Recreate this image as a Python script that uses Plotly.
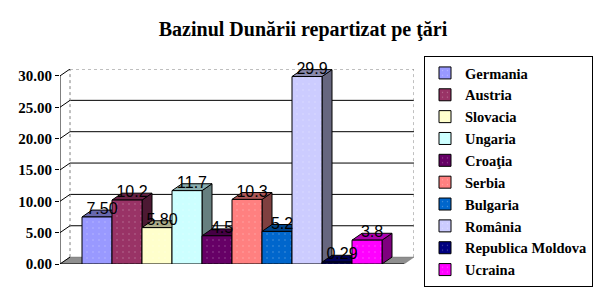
import plotly.graph_objects as go

# ---- data ----
countries = ["Germania", "Austria", "Slovacia", "Ungaria", "Croaţia", "Serbia",
             "Bulgaria", "România", "Republica Moldova", "Ucraina"]
values = [7.50, 10.2, 5.80, 11.7, 4.5, 10.3, 5.2, 29.9, 0.29, 3.8]
value_labels = ["7.50", "10.2", "5.80", "11.7", "4.5", "10.3", "5.2", "29.9", "0.29", "3.8"]
colors = ["#9999FF", "#993366", "#FFFFCC", "#CCFFFF", "#660066", "#FF8080",
          "#0066CC", "#CCCCFF", "#000080", "#FF00FF"]
ytick_vals = [0, 5, 10, 15, 20, 25, 30]
ytick_text = ["0.00", "5.00", "10.00", "15.00", "20.00", "25.00", "30.00"]
title_text = "Bazinul Dunării repartizat pe ţări"

# ---- geometry (in axis units) ----
DX = 1 / 3.0       # depth offset along x
DY = 1.1           # depth offset along y
X0 = -0.5 - 22 / 30.0
XF = len(values) - 0.5 + 22 / 30.0
XMAX = XF + DX
YMAX = 30 + DY


def shade(hex_color, f):
    h = hex_color.lstrip("#")
    r, g, b = (int(h[i:i + 2], 16) for i in (0, 2, 4))
    return "rgb(%d,%d,%d)" % (int(r * f), int(g * f), int(b * f))


fig = go.Figure()

shapes = []
# floor
shapes.append(dict(type="path", xref="x", yref="y", layer="below",
                   path=f"M {X0},0 L {XF},0 L {XF+DX},{DY} L {X0+DX},{DY} Z",
                   fillcolor="#8f8f8f", line=dict(color="#707070", width=0.5)))
# back wall gridlines
for v in ytick_vals[1:-1]:
    shapes.append(dict(type="line", xref="x", yref="y", layer="below",
                       x0=X0 + DX, y0=v + DY, x1=XMAX, y1=v + DY,
                       line=dict(color="black", width=1)))
# top border of back wall
shapes.append(dict(type="line", xref="x", yref="y", layer="below",
                   x0=X0 + DX, y0=30 + DY, x1=XMAX, y1=30 + DY,
                   line=dict(color="#808080", width=1, dash="dot")))
# wall edges
shapes.append(dict(type="line", xref="x", yref="y", layer="below",
                   x0=X0 + DX, y0=DY, x1=X0 + DX, y1=30 + DY,
                   line=dict(color="#808080", width=1, dash="dot")))
shapes.append(dict(type="line", xref="x", yref="y", layer="below",
                   x0=XMAX, y0=DY, x1=XMAX, y1=30 + DY,
                   line=dict(color="#808080", width=1, dash="dot")))
# diagonals from tick to wall
for v in ytick_vals:
    shapes.append(dict(type="line", xref="x", yref="y", layer="below",
                       x0=X0, y0=v, x1=X0 + DX, y1=v + DY,
                       line=dict(color="black", width=1)))
# y axis line and front floor edge
shapes.append(dict(type="line", xref="x", yref="y", layer="below",
                   x0=X0, y0=0, x1=X0, y1=30, line=dict(color="black", width=1)))
shapes.append(dict(type="line", xref="x", yref="y", layer="below",
                   x0=X0, y0=0, x1=XF, y1=0, line=dict(color="black", width=1)))

# bar side faces
for i, (v, c) in enumerate(zip(values, colors)):
    xr = i + 0.5
    shapes.append(dict(type="path", xref="x", yref="y", layer="below",
                       path=f"M {xr},0 L {xr},{v} L {xr+DX},{v+DY} L {xr+DX},{DY} Z",
                       fillcolor=shade(c, 0.5), line=dict(color="black", width=1)))
# bar top faces
for i, (v, c) in enumerate(zip(values, colors)):
    xl, xr = i - 0.5, i + 0.5
    shapes.append(dict(type="path", xref="x", yref="y", layer="below",
                       path=f"M {xl},{v} L {xr},{v} L {xr+DX},{v+DY} L {xl+DX},{v+DY} Z",
                       fillcolor=shade(c, 0.68), line=dict(color="black", width=1)))

# bar front faces
for i, (name, v, c) in enumerate(zip(countries, values, colors)):
    fig.add_trace(go.Bar(
        x=[i], y=[v], width=1, name=name,
        marker=dict(color=c, line=dict(color="black", width=1),
                    pattern=dict(shape=".", fgcolor="rgba(255,255,255,0.6)", size=6, solidity=0.05)),
    ))

# value labels
fig.add_trace(go.Scatter(
    x=[i + DX / 2 for i in range(len(values))],
    y=[v + DY for v in values],
    text=value_labels, mode="text", textposition="middle center",
    textfont=dict(family="Liberation Sans, Arial, sans-serif", size=16, color="black"),
    showlegend=False, cliponaxis=False, hoverinfo="skip",
))

fig.update_layout(
    width=607, height=296,
    margin=dict(l=60, r=607 - 414, t=69, b=32),
    paper_bgcolor="white", plot_bgcolor="white",
    barmode="overlay",
    shapes=shapes,
    hovermode=False,
    title=dict(text="<b>" + title_text + "</b>", x=303 / 607, xanchor="center",
               y=1 - 29 / 296, yanchor="middle",
               font=dict(family="Liberation Serif, Times New Roman, serif", size=20, color="black")),
    xaxis=dict(range=[X0, XMAX], showgrid=False, zeroline=False, showline=False,
               showticklabels=False, ticks="", fixedrange=True),
    yaxis=dict(range=[0, YMAX], showgrid=False, zeroline=False, showline=False,
               tickvals=ytick_vals, ticktext=ytick_text, ticks="outside", ticklen=4,
               tickcolor="black",
               tickfont=dict(family="Liberation Serif, Times New Roman, serif", size=15,
                             color="black", weight="bold")),
    legend=dict(x=(424 - 60) / 354, y=1 + (69 - 56) / 195, xanchor="left", yanchor="top",
                bordercolor="black", borderwidth=1, bgcolor="white",
                font=dict(family="Liberation Serif, Times New Roman, serif", size=14.5,
                          color="black", weight="bold"),
                tracegroupgap=0, maxheight=300),
)

fig.write_html("out.html")
